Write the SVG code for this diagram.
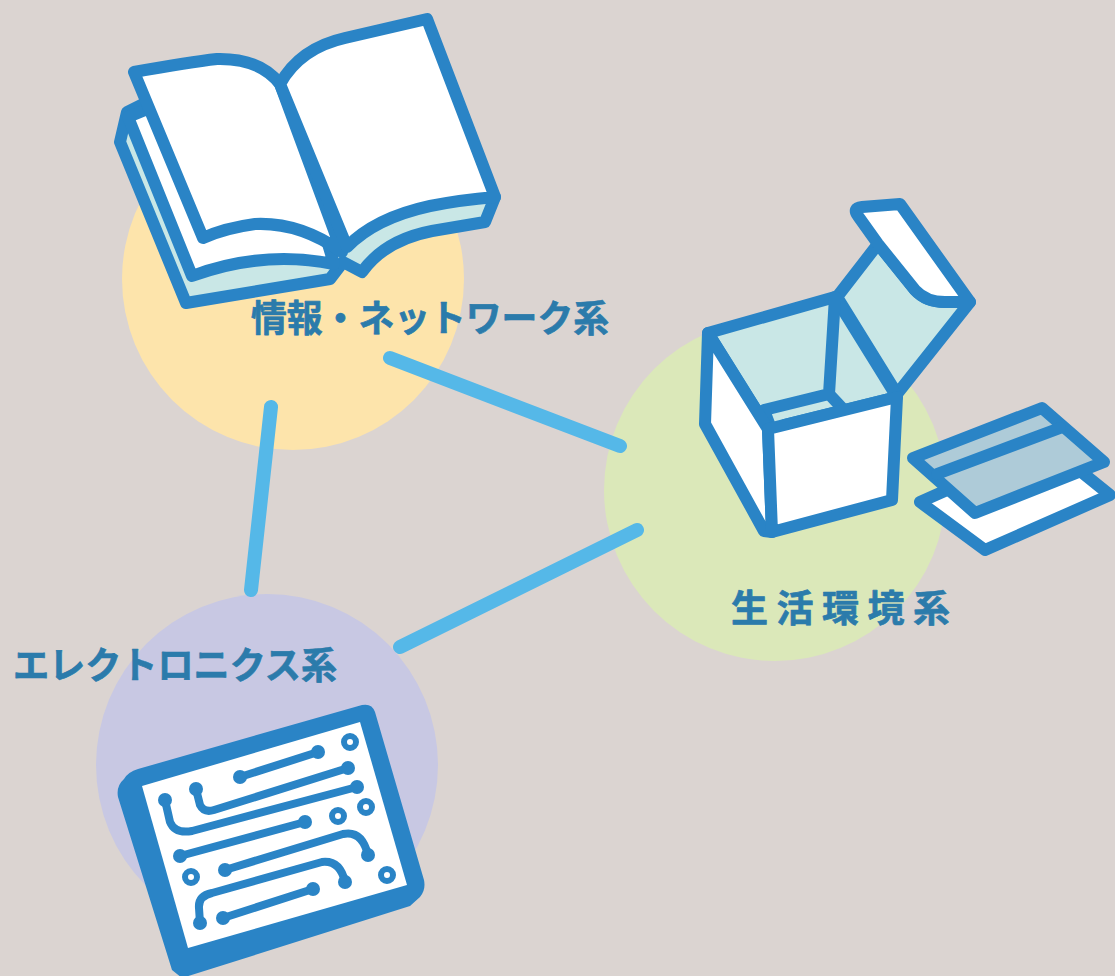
<svg xmlns="http://www.w3.org/2000/svg" width="1115" height="976" viewBox="0 0 1115 976">
  <style>
    .ic { stroke: #2a84c6; stroke-width: 12; stroke-linejoin: round; stroke-linecap: round; }
    .w { fill: #ffffff; }
    .c { fill: #c9e7e6; }
    .k { fill: #aecbd8; }
    .tr { fill: none; stroke: #2a84c6; stroke-width: 8; stroke-linecap: round; stroke-linejoin: round; }
    .dot { fill: #2a84c6; }
    .ring { fill: #ffffff; stroke: #2a84c6; stroke-width: 6; }
    .lbl { font-family: "Noto Sans CJK JP", "Noto Sans", sans-serif; font-weight: 700; font-size: 37px; fill: #2b7bab; stroke: #2b7bab; stroke-width: 0.7; stroke-linejoin: round; }
    .link { stroke: #55b8e8; stroke-width: 14; stroke-linecap: round; fill: none; }
  </style>
  <rect width="1115" height="976" fill="#dbd4d1"/>

  <!-- background discs -->
  <circle cx="293" cy="279" r="171" fill="#fde4ab"/>
  <circle cx="775" cy="490" r="171" fill="#dbe8b9"/>
  <circle cx="267" cy="765" r="171" fill="#c8c8e3"/>

  <!-- connectors -->
  <g id="connectors">
    <line class="link" x1="390" y1="358" x2="620" y2="446"/>
    <line class="link" x1="271" y1="407" x2="251" y2="590"/>
    <line class="link" x1="400" y1="647" x2="637" y2="530"/>
  </g>

  <!-- information / network: open book -->
  <g id="node-info">
    <path class="ic c" d="M145,103 L127,112 L120,142 L186,303 L330,279 L343,262 L362,272 Q385,240 432,231 L485,222 L495,197 Z"/>
    <path class="ic w" d="M128,117 L192,276 Q262,250 334,264 L300,150 L150,108 Z"/>
    <path class="ic w" d="M134,72 Q190,62 217,59 Q260,58 280,84 L342,252 Q300,222 255,224 Q225,228 203,238 Z"/>
    <path class="ic w" d="M280,84 Q300,48 345,38 L427,19 L495,197 Q460,200 430,206 Q375,218 347,247 Z"/>
    <text class="lbl" x="251" y="332" textLength="358" lengthAdjust="spacingAndGlyphs">情報・ネットワーク系</text>
  </g>

  <!-- living environment: open box and cards -->
  <g id="node-life">
    <!-- flap -->
    <path class="ic c" d="M837,297 L878,244 L915,290 Q926,302 945,302 L970,302 L897,394 Z"/>
    <path class="ic w" d="M878,244 L858,216 Q852,208 862,207 L900,204 L970,302 L945,302 Q926,302 915,290 Z"/>
    <!-- top opening -->
    <path class="ic c" d="M708,333 L835,297 L897,397 L768,429 Z"/>
    <path class="ic c" d="M835,297 L829,394 L843,409 M829,394 L764,410 L770,426"/>
    <!-- side faces -->
    <path class="ic w" d="M708,333 L768,429 L772,532 L764,531 L705,424 Z"/>
    <path class="ic w" d="M768,429 L897,397 L892,500 L772,532 Z"/>
    <!-- cards -->
    <path class="ic w" d="M920,502 L985,550 L1110,495 L1048,445 Z"/>
    <path class="ic k" d="M913,458 L1042,408 L1104,462 L975,513 Z"/>
    <line class="ic" x1="937" y1="474" x2="1060" y2="428"/>
    <text class="lbl" x="731" y="622" textLength="219" lengthAdjust="spacing">生活環境系</text>
  </g>

  <!-- electronics: circuit board -->
  <g id="node-electronics">
    <text class="lbl" x="13" y="679" textLength="324" lengthAdjust="spacingAndGlyphs">エレクトロニクス系</text>
    <path fill="#2a84c6" d="M124,779 Q128,772 138,769 L362,705 Q372,703 375,712 L424,880 Q426,890 420,897 L410,906 L182,978 L172,970 L118,797 Q116,786 124,779 Z"/>
    <path fill="#ffffff" d="M142,786 L360,722 L407,885 L188,948 Z"/>
    <!-- traces -->
    <path class="tr" d="M240,777 L318,752"/>
    <path class="tr" d="M196,789 L200,805 Q204,813 214,810 L348,768"/>
    <path class="tr" d="M165,800 L170,822 Q175,834 192,831 L357,787"/>
    <path class="tr" d="M180,856 L305,822"/>
    <path class="tr" d="M225,870 L343,834 Q362,830 368,855"/>
    <path class="tr" d="M200,923 L199,908 Q198,896 212,893 L322,862 Q340,860 345,882"/>
    <path class="tr" d="M223,918 L313,889"/>
    <g class="dot">
      <circle cx="240" cy="777" r="7"/>
      <circle cx="318" cy="752" r="7"/>
      <circle cx="196" cy="789" r="7"/>
      <circle cx="348" cy="768" r="7"/>
      <circle cx="165" cy="800" r="7"/>
      <circle cx="357" cy="787" r="7"/>
      <circle cx="180" cy="856" r="7"/>
      <circle cx="305" cy="822" r="7"/>
      <circle cx="225" cy="870" r="7"/>
      <circle cx="368" cy="855" r="7"/>
      <circle cx="200" cy="923" r="7"/>
      <circle cx="345" cy="882" r="7"/>
      <circle cx="223" cy="918" r="7"/>
      <circle cx="313" cy="889" r="7"/>
    </g>
    <circle class="ring" cx="350" cy="742" r="6"/>
    <circle class="ring" cx="366" cy="807" r="6"/>
    <circle class="ring" cx="338" cy="816" r="6"/>
    <circle class="ring" cx="191" cy="877" r="6"/>
    <circle class="ring" cx="387" cy="875" r="6"/>
  </g>
</svg>
